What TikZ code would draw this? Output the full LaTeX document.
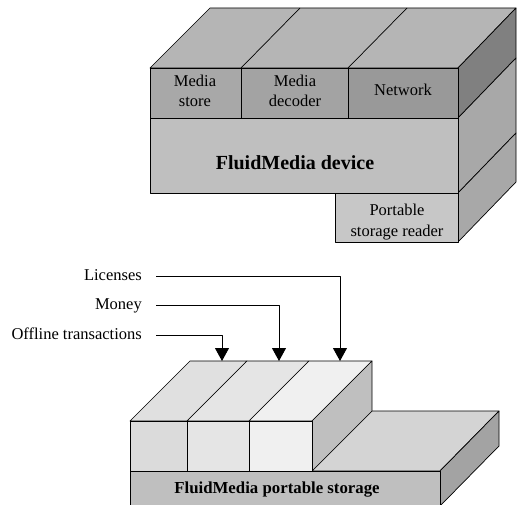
\documentclass[tikz,border=0pt]{standalone}
\usepackage{fontspec}
\setmainfont{Liberation Serif}
\usetikzlibrary{arrows.meta}
\begin{document}
\begin{tikzpicture}[x=1pt, y=-1pt, line join=round,
    face/.style={draw, line width=.7pt},
    lbl/.style={font=\fontsize{16.5}{20.5}\selectfont, align=center, inner sep=0pt},
    tag/.style={lbl, anchor=east, text height=11.5pt, text depth=3.5pt},
    feed/.style={line width=.9pt, -{Triangle[length=13pt, width=14pt]}}]
  \useasboundingbox (0,0) rectangle (517,505);
  \filldraw [face, fill=black!29]
    (150,68) -- (458,68) -- (516,8) -- (210,8) -- cycle;
  \draw [face]
    (241,68) -- (300,8)
    (348,68) -- (407,8);
  \filldraw [face, fill=black!50]
    (458,68) -- (516,8) -- (516,58) -- (458,118) -- cycle;
  \filldraw [face, fill=black!34]
    (458,118) -- (516,58) -- (516,133) -- (458,193) -- cycle;
  \filldraw [face, fill=black!34]
    (458,193) -- (516,133) -- (516,182) -- (458,242) -- cycle;
  \filldraw [face, fill=black!34] (150,68) rectangle (241,118);
  \filldraw [face, fill=black!36] (241,68) rectangle (348,118);
  \filldraw [face, fill=black!40] (348,68) rectangle (458,118);
  \filldraw [face, fill=black!25] (150,118) rectangle (458,193);
  \filldraw [face, fill=black!22] (335,193) rectangle (458,242);
  \node [lbl] (store) at (195,91) {Media\\store};
  \node [lbl] (decoder) at (295,91) {Media\\decoder};
  \node [lbl] (network) at (403,90) {Network};
  \node [lbl, font=\fontsize{20}{22}\selectfont\bfseries] (device) at (295,163) {FluidMedia device};
  \node [lbl] (reader) at (397,222) {Portable\\storage reader};
  \filldraw [face, fill=black!17]
    (312,471) -- (440,471) -- (499,411) -- (372,411) -- cycle;
  \filldraw [face, fill=black!36]
    (440,471) -- (499,411) -- (499,446) -- (440,506) -- cycle;
  \filldraw [face, fill=black!25] (130,471) rectangle (440,506);
  \filldraw [face, fill=black!12]
    (130,421) -- (187,421) -- (247,361) -- (190,361) -- cycle;
  \filldraw [face, fill=black!10]
    (187,421) -- (249,421) -- (309,361) -- (247,361) -- cycle;
  \filldraw [face, fill=black!6]
    (249,421) -- (312,421) -- (372,361) -- (309,361) -- cycle;
  \filldraw [face, fill=black!25]
    (312,421) -- (372,361) -- (372,411) -- (312,471) -- cycle;
  \filldraw [face, fill=black!14] (130,421) rectangle (187,471);
  \filldraw [face, fill=black!10] (187,421) rectangle (249,471);
  \filldraw [face, fill=black!6] (249,421) rectangle (312,471);
  \node [lbl, font=\fontsize{16.8}{20}\selectfont\bfseries] (pstore) at (277,490) {FluidMedia portable storage};
  \node [tag] (lic) at (142,276) {Licenses};
  \node [tag] (mon) at (142,305) {Money};
  \node [tag] (off) at (142,335) {Offline transactions};
  \coordinate (licin) at (340,361);
  \coordinate (monin) at (279,361);
  \coordinate (offin) at (222,361);
  \draw [feed] ([xshift=14pt]lic.east) -| (licin);
  \draw [feed] ([xshift=14pt]mon.east) -| (monin);
  \draw [feed] ([xshift=14pt]off.east) -| (offin);
\end{tikzpicture}
\end{document}
